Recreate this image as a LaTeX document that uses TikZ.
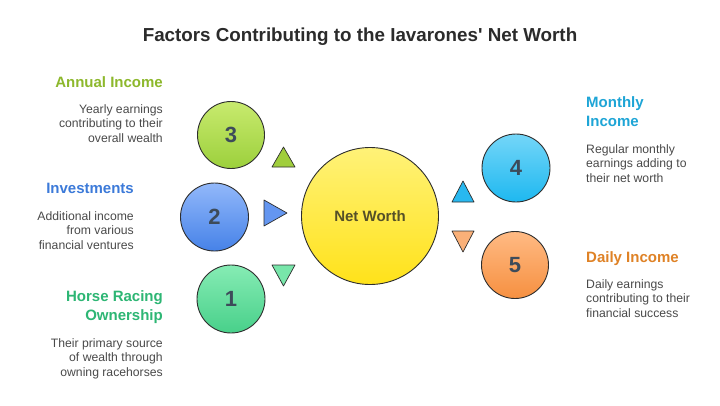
\documentclass[tikz,border=0pt]{standalone}
\usepackage{fontspec}
\setmainfont{Liberation Sans}
\usetikzlibrary{shapes.geometric}
\definecolor{titlec}{HTML}{2B2B2B}
\definecolor{descc}{HTML}{4A4A4A}
\definecolor{numc}{HTML}{3D4B5A}
\definecolor{edgec}{HTML}{2E2E2E}
\definecolor{annc}{HTML}{8DB82C}
\definecolor{invc}{HTML}{3C7AD9}
\definecolor{horc}{HTML}{2DB674}
\definecolor{monc}{HTML}{1EA5D6}
\definecolor{dayc}{HTML}{DF8226}
\tikzset{
  bubble/.style={circle, draw=edgec, line width=0.9pt, minimum size=#1, inner sep=0pt,
    font=\bfseries\fontsize{22}{24}\selectfont, text=numc},
  head/.style={inner sep=0pt, font=\bfseries\fontsize{15}{19}\selectfont},
  desc/.style={inner sep=0pt, font=\fontsize{12.2}{14.5}\selectfont, text=descc},
  tri/.style={draw=edgec, line width=0.7pt, line join=round},
}
\begin{document}
\begin{tikzpicture}[x=1pt,y=-1pt]
\useasboundingbox[fill=white] (0,0) rectangle (720,405);
\node[font=\bfseries\fontsize{18.8}{22}\selectfont, text=titlec] (title) at (360,37) {Factors Contributing to the Iavarones\textquotesingle\ Net Worth};

% central
\node[bubble=137pt, top color={rgb,255:red,255;green,242;blue,120}, bottom color={rgb,255:red,255;green,226;blue,26},
  font=\bfseries\fontsize{15}{18}\selectfont, text={rgb,255:red,85;green,80;blue,40}] (nw) at (370,216) {Net Worth};

% left bubbles
\node[bubble=67pt, top color={rgb,255:red,200;green,234;blue,110}, bottom color={rgb,255:red,156;green,208;blue,60}] (c3) at (231,135) {3};
\node[bubble=68pt, top color={rgb,255:red,146;green,184;blue,250}, bottom color={rgb,255:red,70;green,130;blue,232}] (c2) at (214.5,217) {2};
\node[bubble=68pt, top color={rgb,255:red,134;green,236;blue,180}, bottom color={rgb,255:red,72;green,208;blue,138}] (c1) at (231,299) {1};
% right bubbles
\node[bubble=68pt, top color={rgb,255:red,116;green,214;blue,248}, bottom color={rgb,255:red,30;green,184;blue,240}] (c4) at (516,168) {4};
\node[bubble=67pt, top color={rgb,255:red,255;green,186;blue,132}, bottom color={rgb,255:red,246;green,144;blue,64}] (c5) at (515,265) {5};

% triangles
\path[tri, fill={rgb,255:red,160;green,206;blue,60}] (283.5,147) -- (295,167) -- (272,167) -- cycle;
\path[tri, fill={rgb,255:red,100;green,150;blue,240}] (264,200) -- (287,213) -- (264,226) -- cycle;
\path[tri, fill={rgb,255:red,120;green,230;blue,170}] (272,265) -- (295,265) -- (283.5,286) -- cycle;
\path[tri, fill={rgb,255:red,40;green,184;blue,240}] (463,181) -- (474,202) -- (452,202) -- cycle;
\path[tri, fill={rgb,255:red,250;green,176;blue,120}] (452,231) -- (474,231) -- (463,252) -- cycle;

% left texts
\node[head, text=annc, anchor=base east] (h3) at (163,87) {Annual Income};
\node[desc, anchor=base east, align=right] (d3) at (163,142) {Yearly earnings\\contributing to their\\overall wealth};
\node[head, text=invc, anchor=base east] (h2) at (134,193) {Investments};
\node[desc, anchor=base east, align=right] (d2) at (134,249) {Additional income\\from various\\financial ventures};
\node[head, text=horc, anchor=base east, align=right] (h1) at (163,320) {Horse Racing\\Ownership};
\node[desc, anchor=base east, align=right] (d1) at (163,376) {Their primary source\\of wealth through\\owning racehorses};

% right texts
\node[head, text=monc, anchor=base west, align=left] (h4) at (586,126) {Monthly\\Income};
\node[desc, anchor=base west, align=left] (d4) at (586,182) {Regular monthly\\earnings adding to\\their net worth};
\node[head, text=dayc, anchor=base west] (h5) at (586,262) {Daily Income};
\node[desc, anchor=base west, align=left] (d5) at (586,317) {Daily earnings\\contributing to their\\financial success};
\end{tikzpicture}
\end{document}
